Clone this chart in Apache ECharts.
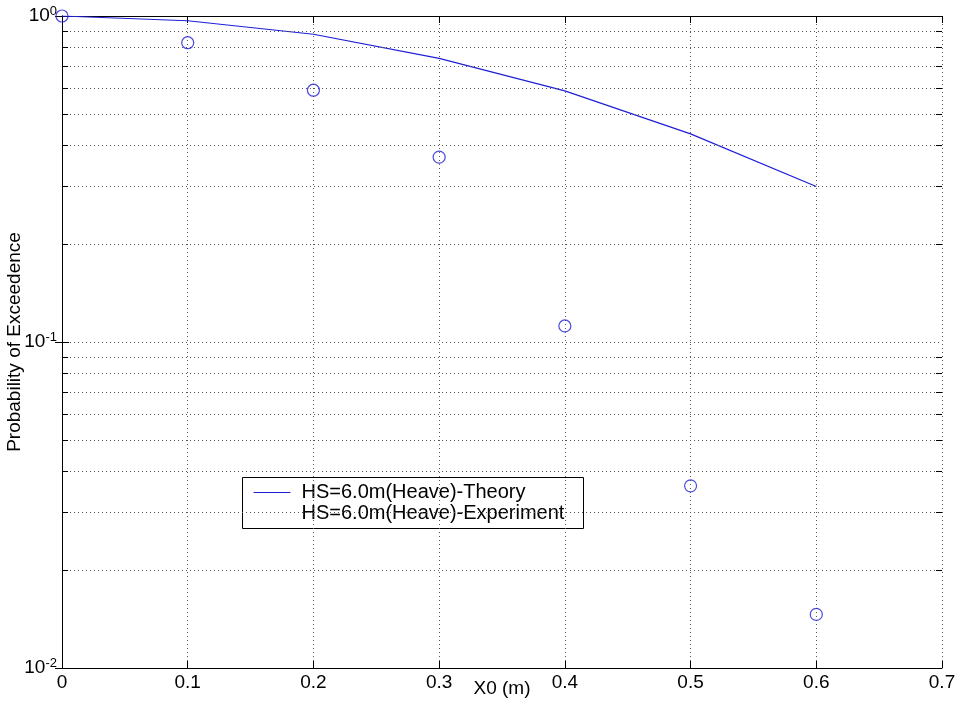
<!DOCTYPE html>
<html>
<head>
<meta charset="utf-8">
<title>Probability of Exceedence</title>
<script src="https://cdn.jsdelivr.net/npm/echarts@6/dist/echarts.min.js"></script>
<style>
  html, body { margin: 0; padding: 0; background: #fff; }
  #chart { width: 958px; height: 711px; }
</style>
</head>
<body>
<div id="chart"></div>
<script>
// values
const xValues = [0, 0.1, 0.2, 0.3, 0.4, 0.5, 0.6]
const theory = [1.0, 0.967, 0.879, 0.741, 0.589, 0.435, 0.30]
const experiment = [1.0, 0.828, 0.592, 0.369, 0.112, 0.0362, 0.0146]
const minorValues = [0.02, 0.03, 0.04, 0.05, 0.06, 0.07, 0.08, 0.09,
  0.2, 0.3, 0.4, 0.5, 0.6, 0.7, 0.8, 0.9]
const seriesNames = ['HS=6.0m(Heave)-Theory', 'HS=6.0m(Heave)-Experiment']

const FONT = 'Liberation Sans, Arial, sans-serif'
const BLUE = '#1f1fd6'
const GRID_STYLE = { color: '#555', width: 1, type: [1, 3] }
const X_MIN = 0
const X_MAX = 0.7
const TICK_LEN = 0.0048 // minor tick length in x units (about 6px)

function pairs(xs, ys) {
  return xs.map((x, i) => [x, ys[i]])
}

function yLabel(v) {
  const exp = Math.round(Math.log10(v))
  return '{b|10}{e|' + exp + '}'
}

function minorGridLines() {
  return minorValues.map(v => ({ yAxis: v }))
}

function minorTickLines() {
  const out = []
  minorValues.forEach(v => {
    out.push([{ coord: [X_MIN, v] }, { coord: [X_MIN + TICK_LEN, v] }])
    out.push([{ coord: [X_MAX - TICK_LEN, v] }, { coord: [X_MAX, v] }])
  })
  return out
}

const chart = echarts.init(document.getElementById('chart'), null, { renderer: 'canvas' })

const axisLine = { show: true, lineStyle: { color: '#000', width: 1 } }
const axisTick = { show: true, inside: true, length: 7, lineStyle: { color: '#000' } }

chart.setOption({
  animation: false,
  backgroundColor: '#fff',
  textStyle: { fontFamily: FONT },
  grid: {
    left: 62, right: 16, top: 16, bottom: 43,
    show: false,
    containLabel: false,
    outerBoundsMode: 'none'
  },
  xAxis: [{
    type: 'value',
    min: X_MIN,
    max: X_MAX,
    interval: 0.1,
    name: 'X0 (m)',
    nameLocation: 'middle',
    nameGap: 11,
    nameMoveOverlap: false,
    nameTextStyle: { fontSize: 19, color: '#000', fontFamily: FONT, verticalAlign: 'top' },
    axisLine,
    axisTick,
    axisLabel: {
      margin: 5,
      fontSize: 19,
      color: '#000',
      fontFamily: FONT,
      formatter: v => String(+v.toFixed(1))
    },
    splitLine: { show: true, lineStyle: GRID_STYLE }
  }, {
    type: 'value',
    position: 'top',
    min: X_MIN,
    max: X_MAX,
    interval: 0.1,
    axisLine,
    axisTick,
    axisLabel: { show: false },
    splitLine: { show: false }
  }],
  yAxis: [{
    type: 'log',
    logBase: 10,
    min: 0.01,
    max: 1,
    name: 'Probability of Exceedence',
    nameLocation: 'middle',
    nameGap: 38,
    nameMoveOverlap: false,
    nameTextStyle: { fontSize: 19, color: '#000', fontFamily: FONT },
    axisLine,
    axisTick,
    axisLabel: {
      margin: 5,
      color: '#000',
      formatter: yLabel,
      rich: {
        b: { fontSize: 19, fontFamily: FONT, color: '#000', lineHeight: 22 },
        e: { fontSize: 13, fontFamily: FONT, color: '#000', verticalAlign: 'top', lineHeight: 14 }
      }
    },
    splitLine: { show: true, lineStyle: GRID_STYLE }
  }, {
    type: 'log',
    logBase: 10,
    min: 0.01,
    max: 1,
    position: 'right',
    axisLine,
    axisTick,
    axisLabel: { show: false },
    splitLine: { show: false }
  }],
  series: [{
    // helper series: minor log grid lines and minor ticks
    type: 'line',
    data: [],
    silent: true,
    z: 1,
    markLine: {
      silent: true,
      symbol: 'none',
      animation: false,
      label: { show: false },
      lineStyle: GRID_STYLE,
      data: minorGridLines()
    }
  }, {
    type: 'line',
    data: [],
    silent: true,
    z: 3,
    markLine: {
      silent: true,
      symbol: 'none',
      animation: false,
      label: { show: false },
      lineStyle: { color: '#000', width: 1, type: 'solid' },
      data: minorTickLines()
    }
  }, {
    name: seriesNames[0],
    type: 'line',
    data: pairs(xValues, theory),
    showSymbol: false,
    z: 4,
    lineStyle: { color: BLUE, width: 1.2 }
  }, {
    name: seriesNames[1],
    type: 'scatter',
    data: pairs(xValues, experiment),
    symbol: 'circle',
    symbolSize: 12,
    clip: false,
    z: 5,
    itemStyle: { color: 'rgba(0,0,0,0)', borderColor: BLUE, borderWidth: 1.2 }
  }],
  graphic: [{
    type: 'group',
    left: 242,
    top: 477,
    z: 100,
    children: [{
      type: 'rect',
      shape: { x: 0, y: 0, width: 341, height: 51 },
      style: { fill: '#fff', stroke: '#000', lineWidth: 1 }
    }, {
      type: 'line',
      shape: { x1: 11, y1: 15, x2: 48, y2: 15 },
      style: { stroke: BLUE, lineWidth: 1.2 }
    }, {
      type: 'text',
      x: 59,
      y: 15,
      style: { text: seriesNames[0], fontSize: 20, fontFamily: FONT, fill: '#000', verticalAlign: 'middle' }
    }, {
      type: 'text',
      x: 59,
      y: 36,
      style: { text: seriesNames[1], fontSize: 20, fontFamily: FONT, fill: '#000', verticalAlign: 'middle' }
    }]
  }]
})
</script>
</body>
</html>
